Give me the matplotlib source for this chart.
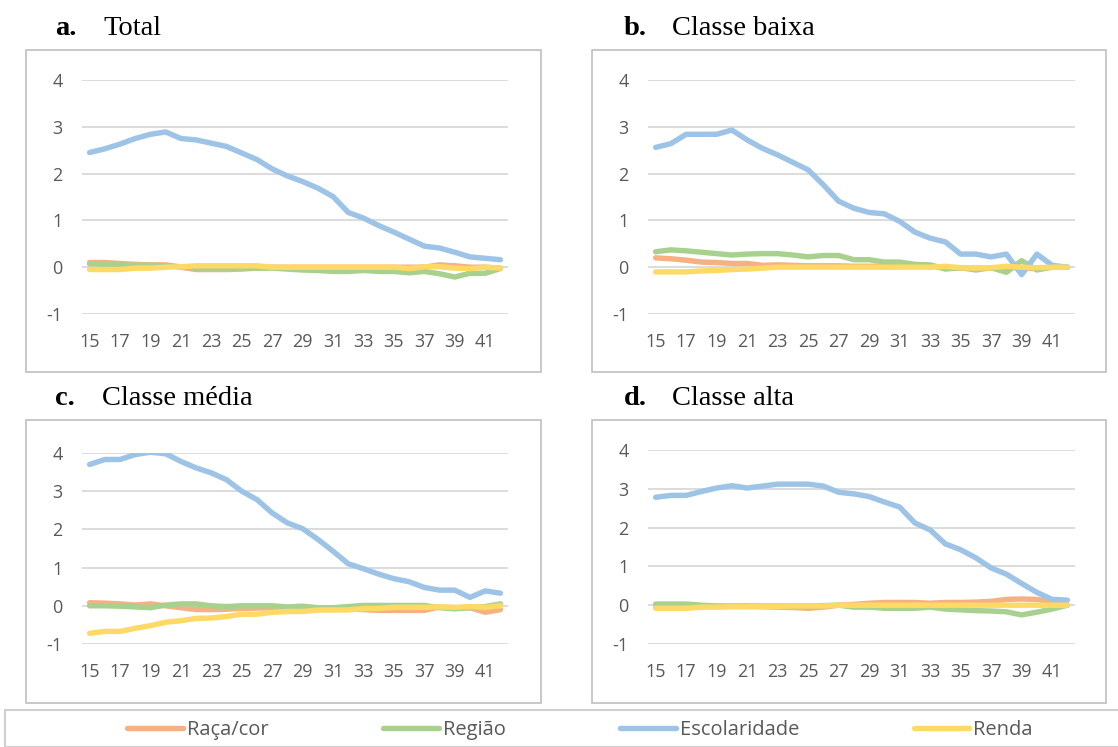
import matplotlib
matplotlib.use("Agg")
import matplotlib.pyplot as plt
from matplotlib.patches import Rectangle
from matplotlib.lines import Line2D

plt.rcParams["axes.unicode_minus"] = False

W, H = 1118, 747

ages = list(range(15, 43))
xticks = list(range(15, 42, 2))
yticks = [-1, 0, 1, 2, 3, 4]

series_names = ["Raça/cor", "Região", "Escolaridade", "Renda"]
colors = ["#F4B183", "#A9D18E", "#9DC3E6", "#FFD966"]

# a. Total
total_raca = [0.10, 0.10, 0.08, 0.06, 0.05, 0.05, 0.00, -0.05, -0.05, -0.05, -0.04, -0.02, 0, 0,
              0, 0, 0, 0, 0, 0, 0, 0, 0, 0.05, 0.03, 0.0, 0.0, -0.02]
total_regiao = [0.07, 0.06, 0.05, 0.04, 0.04, 0.03, 0.01, -0.02, -0.02, -0.02, -0.02, -0.02, -0.02, -0.04,
                -0.06, -0.07, -0.09, -0.09, -0.07, -0.09, -0.09, -0.12, -0.09, -0.14, -0.21, -0.13, -0.13, -0.03]
total_escol = [2.45, 2.53, 2.63, 2.75, 2.84, 2.89, 2.75, 2.72, 2.65, 2.58, 2.44, 2.30, 2.10, 1.95,
               1.83, 1.69, 1.51, 1.17, 1.05, 0.89, 0.75, 0.60, 0.45, 0.41, 0.32, 0.22, 0.19, 0.16]
total_renda = [-0.05, -0.05, -0.05, -0.02, -0.02, 0.0, 0.01, 0.03, 0.03, 0.03, 0.03, 0.03, 0.0, 0,
               0, 0, 0, 0, 0, 0, 0, -0.03, 0.01, 0.01, -0.02, -0.03, 0.0, -0.02]

# b. Classe baixa
baixa_raca = [0.20, 0.18, 0.15, 0.11, 0.10, 0.08, 0.08, 0.04, 0.05, 0.04, 0.03, 0.03, 0.03, 0.02,
              0.02, 0.02, 0.02, 0.02, 0.02, 0.0, -0.02, -0.02, -0.02, 0.0, -0.02, -0.03, 0.0, 0.0]
baixa_regiao = [0.33, 0.37, 0.35, 0.32, 0.29, 0.26, 0.28, 0.29, 0.29, 0.26, 0.22, 0.25, 0.25, 0.16,
                0.16, 0.11, 0.11, 0.06, 0.05, -0.04, -0.01, -0.06, -0.01, -0.11, 0.14, -0.06, 0.0, 0.0]
baixa_escol = [2.56, 2.64, 2.84, 2.84, 2.84, 2.93, 2.72, 2.54, 2.40, 2.24, 2.08, 1.76, 1.41, 1.26,
               1.17, 1.14, 0.98, 0.75, 0.62, 0.54, 0.28, 0.28, 0.22, 0.28, -0.16, 0.28, 0.04, 0.0]
baixa_renda = [-0.10, -0.10, -0.10, -0.08, -0.07, -0.05, -0.04, -0.02, 0, 0, 0, 0, 0, 0,
               0, 0, 0, 0, 0, 0.02, -0.01, -0.02, -0.01, 0.02, 0.0, -0.01, 0.0, 0.0]

# c. Classe média
media_raca = [0.08, 0.07, 0.05, 0.02, 0.05, 0.0, -0.05, -0.10, -0.10, -0.09, -0.07, -0.06, -0.05, -0.06,
              -0.08, -0.08, -0.08, -0.08, -0.10, -0.12, -0.12, -0.12, -0.12, -0.03, -0.05, -0.05, -0.17, -0.10]
media_regiao = [0.0, 0.0, -0.01, -0.03, -0.05, 0.02, 0.05, 0.05, 0.0, -0.02, 0.0, 0.0, 0.0, -0.03,
                -0.01, -0.05, -0.05, -0.02, 0.01, 0.01, 0.01, 0.01, 0.01, -0.05, -0.08, -0.05, -0.02, 0.05]
media_escol = [3.70, 3.83, 3.83, 3.96, 4.02, 3.98, 3.78, 3.61, 3.48, 3.30, 3.00, 2.78, 2.43, 2.17,
               2.02, 1.74, 1.43, 1.10, 0.97, 0.83, 0.71, 0.63, 0.48, 0.41, 0.41, 0.22, 0.39, 0.33]
media_renda = [-0.72, -0.67, -0.67, -0.59, -0.52, -0.43, -0.39, -0.33, -0.32, -0.28, -0.22, -0.22, -0.17, -0.15,
               -0.15, -0.11, -0.11, -0.11, -0.07, -0.07, -0.04, -0.04, -0.04, -0.03, -0.04, -0.02, -0.04, 0.0]

# d. Classe alta
alta_raca = [-0.05, -0.05, -0.05, -0.04, -0.03, -0.03, -0.03, -0.04, -0.05, -0.06, -0.08, -0.05, 0.0, 0.02,
             0.05, 0.07, 0.07, 0.07, 0.05, 0.07, 0.07, 0.08, 0.10, 0.15, 0.16, 0.15, 0.08, 0.0]
alta_regiao = [0.03, 0.03, 0.03, 0.0, -0.02, -0.02, -0.02, -0.02, -0.02, -0.02, -0.02, -0.01, 0.0, -0.05,
               -0.05, -0.08, -0.08, -0.08, -0.05, -0.10, -0.12, -0.14, -0.15, -0.17, -0.25, -0.18, -0.10, 0.0]
alta_escol = [2.78, 2.83, 2.83, 2.93, 3.02, 3.08, 3.02, 3.07, 3.12, 3.12, 3.12, 3.07, 2.91, 2.87,
              2.80, 2.66, 2.53, 2.12, 1.94, 1.58, 1.43, 1.22, 0.96, 0.80, 0.56, 0.33, 0.15, 0.13]
alta_renda = [-0.08, -0.08, -0.08, -0.05, -0.05, -0.04, -0.04, -0.03, -0.03, -0.02, -0.02, -0.02, 0, 0,
              0, 0, 0, 0, 0, 0, 0, 0, 0, 0, 0, 0, 0, 0]

panels = [
    ("a.", "Total", [total_raca, total_regiao, total_escol, total_renda]),
    ("b.", "Classe baixa", [baixa_raca, baixa_regiao, baixa_escol, baixa_renda]),
    ("c.", "Classe média", [media_raca, media_regiao, media_escol, media_renda]),
    ("d.", "Classe alta", [alta_raca, alta_regiao, alta_escol, alta_renda]),
]

# pixel layout: (box l, t, r, b), (plot l, t, r, b), title baseline, letter x, title x
layout = [
    ((26, 50, 541, 372), (82, 80, 508, 314), 35, 55, 103),
    ((592, 50, 1106, 372), (648, 80, 1075, 314), 35, 624, 672),
    ((26, 420, 541, 703), (82, 453, 508, 644), 405, 55, 102),
    ((592, 420, 1106, 703), (648, 450, 1075, 644), 405, 624, 672),
]

fig = plt.figure(figsize=(W / 100, H / 100), dpi=100)
fig.patch.set_facecolor("white")

for (letter, title, data), (box, area, ty, lx, tx) in zip(panels, layout):
    bl, bt, br, bb = box
    fig.patches.append(Rectangle((bl / W, 1 - bb / H), (br - bl) / W, (bb - bt) / H,
                                 transform=fig.transFigure, fill=False,
                                 edgecolor="#BFBFBF", linewidth=1.2))
    pl, pt, pr, pb = area
    ax = fig.add_axes([pl / W, 1 - pb / H, (pr - pl) / W, (pb - pt) / H])
    for vals, c in zip(data, colors):
        ax.plot(ages, vals, color=c, lw=3.9, solid_capstyle="round", solid_joinstyle="round")
    ax.set_xlim(14.5, 42.5)
    ax.set_ylim(-1, 4)
    ax.set_xticks(xticks)
    ax.set_yticks(yticks)
    ax.grid(axis="y", color="#D9D9D9", lw=1.3)
    ax.set_axisbelow(True)
    for s in ax.spines.values():
        s.set_visible(False)
    ax.tick_params(length=0, labelsize=13, colors="#595959", pad=14)
    for lab in ax.get_xticklabels() + ax.get_yticklabels():
        lab.set_family("Open Sans")
    fig.text(lx / W, 1 - ty / H, letter, family="Liberation Serif", weight="bold",
             fontsize=20.5, va="baseline", ha="left")
    fig.text(tx / W, 1 - ty / H, title, family="Liberation Serif",
             fontsize=20.5, va="baseline", ha="left")

# legend box
fig.patches.append(Rectangle((5 / W, 0), (W - 3) / W, (H - 710) / H,
                             transform=fig.transFigure, fill=False,
                             edgecolor="#D0D0D0", linewidth=1.5))
handles = [Line2D([], [], color=c, lw=3.9, solid_capstyle="round") for c in colors]
fs = 14.5
fig.legend(handles, series_names, loc="center", bbox_to_anchor=(580 / W, 1 - 730 / H),
           ncol=4, frameon=False, handlelength=2.75, handletextpad=0.2,
           columnspacing=5.7, prop={"family": "Open Sans", "size": fs},
           labelcolor="#595959")

fig.savefig("out.png", dpi=100, facecolor="white")
